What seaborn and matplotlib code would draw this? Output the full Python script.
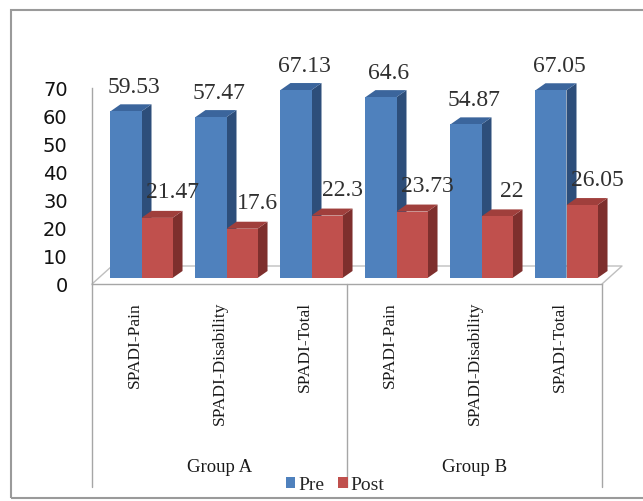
import matplotlib
matplotlib.use("Agg")
import matplotlib.pyplot as plt
from matplotlib.patches import Polygon, Rectangle, Patch
import pandas as pd
import seaborn as sns

# ---- data -------------------------------------------------------------
groups = ["Group A", "Group B"]
measures = ["SPADI-Pain", "SPADI-Disability", "SPADI-Total"]
phases = ["Pre", "Post"]
pre_scores = [59.53, 57.47, 67.13, 64.6, 54.87, 67.05]
post_scores = [21.47, 17.6, 22.3, 23.73, 22, 26.05]
y_ticks = [0, 10, 20, 30, 40, 50, 60, 70]

keys = [f"{g}|{m}" for g in groups for m in measures]
df = pd.DataFrame({
    "key": keys * 2,
    "phase": ["Pre"] * len(keys) + ["Post"] * len(keys),
    "score": pre_scores + post_scores,
})

# ---- style --------------------------------------------------------------
sns.set_style("white")
plt.rcParams["font.family"] = ["DejaVu Sans"]
SERIF = "Liberation Serif"
GRID_GREY = "#A6A6A6"

face = {"Pre": "#4F81BD", "Post": "#C0504D"}
side = {"Pre": "#2D4E7A", "Post": "#7E2F2D"}
top = {"Pre": "#3B659C", "Post": "#A03F3C"}

W, H = 643, 502
fig = plt.figure(figsize=(W / 100, H / 100), dpi=100)
fig.patch.set_facecolor("white")


def fx(px):
    return px / W


def fy(py):
    return 1 - py / H


# front plane: value axis, floor edge and category labels
ax_f = fig.add_axes([fx(92), fy(285), 510 / W, 196 / H])
# bar plane, set a little deeper into the floor
ax_b = fig.add_axes([fx(99), fy(279), 510 / W, 196 / H], zorder=ax_f.get_zorder() + 1)

# ---- bars ----------------------------------------------------------------
sns.barplot(data=df, x="key", y="score", hue="phase", hue_order=phases,
            palette=face, width=0.73, saturation=1, linewidth=0,
            legend=False, ax=ax_b)
ax_b.set_xlim(-0.5, 5.5)
ax_b.set_ylim(0, 70)
ax_b.axis("off")

# depth of each column (category units, score units)
DX, DY = 10 / 85, 7 / 2.8
zbase = {"Pre": 2, "Post": 4}
label_off = {"Pre": (8, 25), "Post": (15, 26)}

for container, phase in zip(ax_b.containers, phases):
    for rect in container:
        x0, w, h = rect.get_x(), rect.get_width(), rect.get_height()
        rect.set_zorder(zbase[phase] + 1)
        x1 = x0 + w
        ax_b.add_patch(Polygon([(x1, 0), (x1 + DX, DY), (x1 + DX, h + DY), (x1, h)],
                               closed=True, facecolor=side[phase], edgecolor="none",
                               zorder=zbase[phase], clip_on=False))
        ax_b.add_patch(Polygon([(x0, h), (x0 + DX, h + DY), (x1 + DX, h + DY), (x1, h)],
                               closed=True, facecolor=top[phase], edgecolor="none",
                               zorder=zbase[phase] + 0.5, clip_on=False))
        ox, oy = label_off[phase]
        ax_b.annotate(f"{h:g}", xy=(x0 + w / 2, h), xytext=(ox * 0.72, oy * 0.72),
                      textcoords="offset points", ha="center", va="center",
                      fontsize=17, family=SERIF, color="#303030",
                      zorder=10, annotation_clip=False)

# ---- front plane axes ------------------------------------------------------
ax_f.set_xlim(-0.5, 5.5)
ax_f.set_ylim(0, 70)
ax_f.patch.set_alpha(0)
for s in ("top", "right"):
    ax_f.spines[s].set_visible(False)
for s in ("left", "bottom"):
    ax_f.spines[s].set_color(GRID_GREY)
    ax_f.spines[s].set_linewidth(1.0)

ax_f.set_yticks(y_ticks)
ax_f.tick_params(axis="y", length=0, pad=17.5, labelsize=14, labelcolor="#111111")
ax_f.set_xticks(range(len(keys)))
ax_f.set_xticklabels(measures * len(groups), rotation=90, family=SERIF,
                     fontsize=12.5, color="#1a1a1a")
ax_f.tick_params(axis="x", length=0, pad=12.2)
ax_f.set_xlabel("")
ax_f.set_ylabel("")

# floor outline (back edge and sides)
FDX, FDY = 20 / 85, 18 / 2.8
ax_f.plot([-0.5, -0.5 + FDX, 5.5 + FDX, 5.5], [0, FDY, FDY, 0],
          color="#BFBFBF", lw=1.0, clip_on=False, zorder=1)

# group separators and group names below the category labels
xt = ax_f.get_xaxis_transform()
for xs in (-0.5, 2.5, 5.5):
    ax_f.plot([xs, xs], [0, -(488 - 285) / 196], color=GRID_GREY, lw=1.0,
              transform=xt, clip_on=False)
for i, g in enumerate(groups):
    ax_f.text(i * 3 + 1, -(468 - 285) / 196, g, transform=xt, ha="center",
              va="center", fontsize=13.5, family=SERIF, color="#1a1a1a")

# ---- legend ----------------------------------------------------------------
handles = [Patch(facecolor=face[p], edgecolor="none") for p in phases]
fig.legend(handles, phases, loc="center", bbox_to_anchor=(fx(335), fy(486)),
           ncol=2, frameon=False, handlelength=0.5, handleheight=0.5,
           handletextpad=0.15, columnspacing=0.7, borderpad=0,
           prop={"family": SERIF, "size": 14})

# outer chart frame
fig.add_artist(Rectangle((fx(11), fy(499)), (700 - 11) / W, (499 - 11) / H,
                         transform=fig.transFigure, fill=False,
                         edgecolor="#9A9A9A", lw=1.5))

fig.savefig("out.png", dpi=100)
